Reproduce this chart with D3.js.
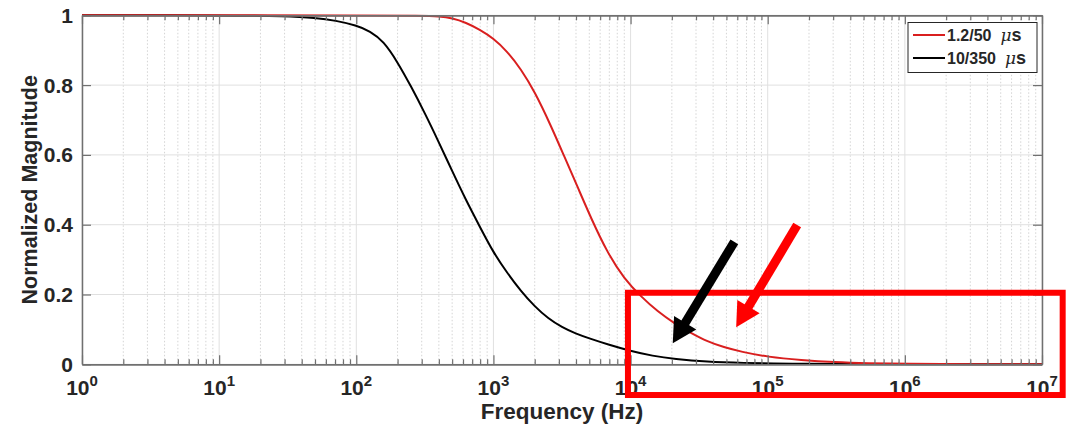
<!DOCTYPE html>
<html>
<head>
<meta charset="utf-8">
<script src="https://cdn.jsdelivr.net/npm/d3@7"></script>
<style>
  html, body { margin: 0; padding: 0; background: #fff; }
  svg { display: block; }
  text { font-family: "Liberation Sans", Arial, Helvetica, sans-serif; font-weight: bold; fill: #262626; }
</style>
</head>
<body>
<svg id="chart" width="1067" height="432"></svg>
<script>
// Frequency response magnitudes (normalized) of the two lightning impulse waveforms
const freqRed = [1, 10, 100, 316, 398, 501, 631, 794, 1000, 1259, 1585, 1995, 2618, 3273, 4102, 5129, 6808, 8995, 11912, 15776, 20893, 27542, 36475, 47863, 63973, 100000, 175792, 307609, 537032, 1000000, 3162278, 10000000];
const magRed  = [1, 1, 0.9995, 0.999, 0.997, 0.992, 0.979, 0.959, 0.934, 0.897, 0.846, 0.782, 0.685, 0.597, 0.509, 0.42, 0.318, 0.245, 0.194, 0.151, 0.117, 0.09, 0.065, 0.049, 0.036, 0.021, 0.012, 0.006, 0.003, 0.0012, 0.0003, 0];

const freqBlack = [1, 10, 32, 50, 71, 100, 126, 158, 200, 251, 316, 398, 501, 631, 794, 1000, 1259, 1585, 1995, 2512, 3162, 3981, 5012, 6808, 10000, 14454, 20893, 36308, 63096, 158489, 316228, 1000000, 10000000];
const magBlack  = [1, 1, 0.998, 0.993, 0.985, 0.971, 0.955, 0.926, 0.866, 0.796, 0.72, 0.638, 0.553, 0.47, 0.395, 0.32, 0.262, 0.21, 0.166, 0.131, 0.106, 0.088, 0.074, 0.057, 0.038, 0.024, 0.015, 0.007, 0.004, 0.0015, 0.001, 0.0003, 0];

const seriesNames = ["1.2/50", "10/350"];
const seriesColors = ["#d91f1f", "#000000"];

const yTicks = [0, 0.2, 0.4, 0.6, 0.8, 1];
const yTickLabels = ["0", "0.2", "0.4", "0.6", "0.8", "1"];
const xDecades = [0, 1, 2, 3, 4, 5, 6, 7];

// Highlight annotation (data space): box corners and arrows (tail -> tip)
const boxFreq = [9570, 14150000];
const boxMag = [0.205, -0.088];
const arrowBlack = [[57100, 0.351], [20300, 0.06]];
const arrowRed = [[164000, 0.399], [58900, 0.106]];

const svg = d3.select("#chart");
const plotLeft = 82, plotRight = 1042, plotTop = 15.3, plotBottom = 364.3;

const x = d3.scaleLog().domain([1, 1e7]).range([plotLeft, plotRight]);
const y = d3.scaleLinear().domain([0, 1]).range([plotBottom, plotTop]);

// minor positions 2..9 within each decade
const minorTicks = [];
xDecades.slice(0, -1).forEach(d => {
  for (let k = 2; k <= 9; k++) minorTicks.push(k * Math.pow(10, d));
});
const majorTicks = xDecades.map(d => Math.pow(10, d));

const grid = svg.append("g");
grid.selectAll(".minor").data(minorTicks).join("line")
  .attr("x1", d => x(d)).attr("x2", d => x(d))
  .attr("y1", plotTop).attr("y2", plotBottom)
  .attr("stroke", "#d4d4d4").attr("stroke-width", 1).attr("stroke-dasharray", "1.5,2");
grid.selectAll(".major").data(majorTicks).join("line")
  .attr("x1", d => x(d)).attr("x2", d => x(d))
  .attr("y1", plotTop).attr("y2", plotBottom)
  .attr("stroke", "#e0e0e0").attr("stroke-width", 1);
grid.selectAll(".hgrid").data(yTicks).join("line")
  .attr("x1", plotLeft).attr("x2", plotRight)
  .attr("y1", d => y(d)).attr("y2", d => y(d))
  .attr("stroke", "#e0e0e0").attr("stroke-width", 1);

// Curves (smooth B-spline through the sampled magnitudes)
const line = d3.line().x(d => x(d[0])).y(d => y(d[1])).curve(d3.curveBasis);
const plot = svg.append("g");
plot.append("path").datum(d3.zip(freqBlack, magBlack))
  .attr("d", line).attr("fill", "none").attr("stroke", seriesColors[1]).attr("stroke-width", 2);
plot.append("path").datum(d3.zip(freqRed, magRed))
  .attr("d", line).attr("fill", "none").attr("stroke", seriesColors[0]).attr("stroke-width", 2);

// Axes with inward ticks on all four sides
const axisColor = "#707070";
function styleAxis(g) {
  g.select(".domain").attr("stroke", axisColor).attr("stroke-width", 1.5);
  g.selectAll(".tick line").attr("stroke", axisColor).attr("stroke-width", 1.2);
  g.selectAll(".tick text").remove();
}
const axB = d3.axisBottom(x).tickValues(majorTicks).tickSizeInner(-9).tickSizeOuter(0).tickFormat("");
const axBm = d3.axisBottom(x).tickValues(minorTicks).tickSizeInner(-5).tickSizeOuter(0).tickFormat("");
const axT = d3.axisTop(x).tickValues(majorTicks).tickSizeInner(-9).tickSizeOuter(0).tickFormat("");
const axTm = d3.axisTop(x).tickValues(minorTicks).tickSizeInner(-5).tickSizeOuter(0).tickFormat("");
const axL = d3.axisLeft(y).tickValues(yTicks).tickSizeInner(-9).tickSizeOuter(0).tickFormat("");
const axR = d3.axisRight(y).tickValues(yTicks).tickSizeInner(-9).tickSizeOuter(0).tickFormat("");

svg.append("g").attr("transform", `translate(0,${plotBottom})`).call(axBm).call(styleAxis);
svg.append("g").attr("transform", `translate(0,${plotBottom})`).call(axB).call(styleAxis);
svg.append("g").attr("transform", `translate(0,${plotTop})`).call(axTm).call(styleAxis);
svg.append("g").attr("transform", `translate(0,${plotTop})`).call(axT).call(styleAxis);
svg.append("g").attr("transform", `translate(${plotLeft},0)`).call(axL).call(styleAxis);
svg.append("g").attr("transform", `translate(${plotRight},0)`).call(axR).call(styleAxis);

// Y tick labels
svg.append("g").selectAll("text").data(yTicks).join("text")
  .attr("x", plotLeft - 9).attr("y", d => y(d)).attr("dy", "0.36em")
  .attr("text-anchor", "end").attr("font-size", 21)
  .text((d, i) => yTickLabels[i]);

// X tick labels 10^n
const xl = svg.append("g").selectAll("text").data(xDecades).join("text")
  .attr("x", d => x(Math.pow(10, d))).attr("y", 395)
  .attr("text-anchor", "middle").attr("font-size", 21);
xl.append("tspan").text("10");
xl.append("tspan").attr("dy", -9).attr("font-size", 15).text(d => d);

// Axis titles
svg.append("text").attr("x", (plotLeft + plotRight) / 2).attr("y", 419)
  .attr("text-anchor", "middle").attr("font-size", 22.5).text("Frequency (Hz)");
svg.append("text").attr("transform", `translate(37,${(plotTop + plotBottom) / 2}) rotate(-90)`)
  .attr("text-anchor", "middle").attr("font-size", 21.5).text("Normalized Magnitude");

// Legend
const lg = svg.append("g");
lg.append("rect").attr("x", 908).attr("y", 22.5).attr("width", 129).attr("height", 50)
  .attr("fill", "#fff").attr("stroke", "#262626").attr("stroke-width", 1);
seriesNames.forEach((name, i) => {
  const cy = 35 + i * 23;
  lg.append("line").attr("x1", 913).attr("x2", 945).attr("y1", cy).attr("y2", cy)
    .attr("stroke", seriesColors[i]).attr("stroke-width", 2);
  const t = lg.append("text").attr("x", 947).attr("y", cy).attr("dy", "0.36em").attr("font-size", 16);
  t.append("tspan").text(name);
  t.append("tspan").attr("dx", 9).attr("font-style", "italic").attr("font-weight", "normal")
    .attr("font-family", "DejaVu Serif, serif").attr("font-size", 17).text("\u03bc");
  t.append("tspan").attr("font-size", 18).text("s");
});

// Highlight box and arrows
svg.append("rect")
  .attr("x", x(boxFreq[0])).attr("y", y(boxMag[0]))
  .attr("width", x(boxFreq[1]) - x(boxFreq[0])).attr("height", y(boxMag[1]) - y(boxMag[0]))
  .attr("fill", "none").attr("stroke", "#ff0000").attr("stroke-width", 6);

function arrow(pts, color) {
  const [x0, y0] = [x(pts[0][0]), y(pts[0][1])];
  const [x1, y1] = [x(pts[1][0]), y(pts[1][1])];
  const ang = Math.atan2(y1 - y0, x1 - x0);
  const headLen = 24, headHalf = 13, shaft = 9;
  const bx = x1 - headLen * Math.cos(ang), by = y1 - headLen * Math.sin(ang);
  const nx = -Math.sin(ang), ny = Math.cos(ang);
  svg.append("line").attr("x1", x0).attr("y1", y0).attr("x2", bx + 2 * Math.cos(ang)).attr("y2", by + 2 * Math.sin(ang))
    .attr("stroke", color).attr("stroke-width", shaft);
  svg.append("path")
    .attr("d", `M${x1},${y1}L${bx + nx * headHalf},${by + ny * headHalf}L${bx - nx * headHalf},${by - ny * headHalf}Z`)
    .attr("fill", color);
}
arrow(arrowBlack, "#000000");
arrow(arrowRed, "#ff0000");
</script>
</body>
</html>
